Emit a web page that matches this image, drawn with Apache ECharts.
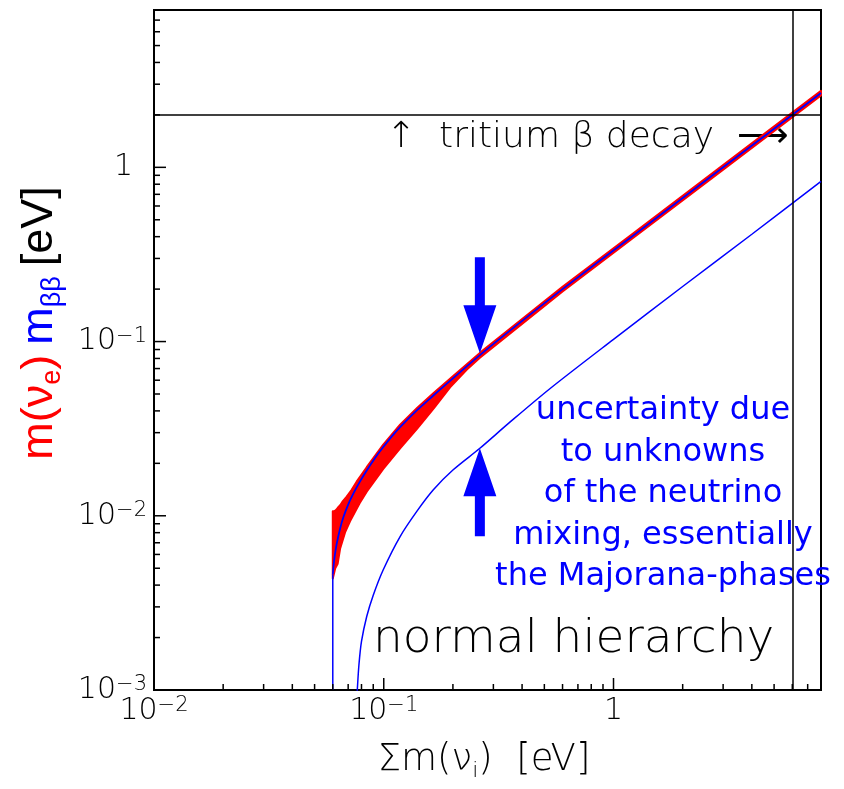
<!DOCTYPE html>
<html><head><meta charset="utf-8">
<script src="https://cdn.jsdelivr.net/npm/echarts@6/dist/echarts.min.js"></script>
<style>html,body{margin:0;padding:0;background:#fff}#c{width:844px;height:789px}</style>
</head><body><div id="c"></div>
<script>
// ---- axis ranges & ticks ----
const xRange = [0.01, 8];
const yRange = [0.001, 8];
const xMajorTicks = [0.01, 0.1, 1];
const xMinorTicks = [0.02,0.03,0.04,0.05,0.06,0.07,0.08,0.09,0.2,0.3,0.4,0.5,0.6,0.7,0.8,0.9,2,3,4,5,6,7];
const yMajorTicks = [0.001, 0.01, 0.1, 1];
const yMinorTicks = [0.002,0.003,0.004,0.005,0.006,0.007,0.008,0.009,0.02,0.03,0.04,0.05,0.06,0.07,0.08,0.09,0.2,0.3,0.4,0.5,0.6,0.7,0.8,0.9,2,3,4,5,6,7];

// ---- data (Σm [eV], m [eV]) ----
const redUpper = [[0.06,0.0106],[0.0608,0.0106],[0.0615,0.0107],[0.0624,0.0109],[0.0634,0.0112],[0.0646,0.0115],[0.066,0.0120],[0.069,0.0129],[0.0725,0.0141],[0.0762,0.0157],[0.0843,0.0190],[0.0995,0.0256],[0.1178,0.0333],[0.14,0.0417],[0.1644,0.0505],[0.2,0.0633],[0.262,0.0861],[0.6,0.206],[1.2,0.412],[3,1.03],[8,2.75]];
const redLower = [[0.06,0.00437],[0.0615,0.0050],[0.063,0.0053],[0.0646,0.0065],[0.068,0.0081],[0.0713,0.0093],[0.0785,0.0118],[0.0843,0.01374],[0.0995,0.0186],[0.1178,0.0244],[0.1392,0.0314],[0.165,0.0413],[0.1943,0.0546],[0.23,0.0691],[0.262,0.0807],[0.6,0.194],[1.2,0.388],[3,0.97],[8,2.59]];
const mbbMaxStem = [[0.0600,0.001],[0.0600,0.0046]];
const mbbMax = [[0.06,0.0046],[0.0605,0.0052],[0.0612,0.0059],[0.0624,0.0069],[0.0645,0.0084],[0.0667,0.0098],[0.070,0.0116],[0.0737,0.0134],[0.0785,0.0156],[0.0843,0.0182],[0.0915,0.0214],[0.0995,0.0248],[0.108,0.0284],[0.1178,0.0323],[0.14,0.0405],[0.1644,0.0490],[0.2,0.0615],[0.262,0.0836],[0.37,0.121],[0.6,0.200],[1.2,0.400],[3,1.0],[8,2.67]];
const mbbMin = [[0.0755,0.0007],[0.0767,0.001],[0.078,0.0014],[0.080,0.0019],[0.0843,0.00264],[0.09,0.0035],[0.0995,0.0049],[0.1178,0.0076],[0.14,0.0107],[0.1644,0.0141],[0.2,0.0183],[0.262,0.0244],[0.35,0.034],[0.53,0.0538],[1,0.103],[2,0.207],[4,0.413],[8,0.83]];
const tritiumLimit = 2;      // m(nu_e) limit [eV]
const sumLimit = 6;          // corresponding Σm [eV]
const arrowTips = [[0.262,0.0857,'down'],[0.262,0.0244,'up']];
const noteLines = ['uncertainty due','to unknowns','of the neutrino','mixing, essentially','the Majorana-phases'];

const chart = echarts.init(document.getElementById('c'), null, {renderer:'canvas'});

const LF = 'DejaVu Sans';
function expLabelX(v){
  const l = Math.log10(v), e = Math.round(l);
  if (Math.abs(l-e) > 1e-6) return '';
  if (e === 0) return '{b|1}';
  return '{b|10}{e|\u2212' + (-e) + '}';
}
function expLabelY(v){
  const l = Math.log10(v), e = Math.round(l);
  if (Math.abs(l-e) > 1e-6) return '';
  if (e === 0) return '{b|1}{sp|}';
  return '{b|10}{e|\u2212' + (-e) + '}';
}
const richX = {
  b:{fontFamily:LF, fontSize:30, fontWeight:200, color:'#000', lineHeight:31, padding:[11,0,0,0], verticalAlign:'bottom'},
  e:{fontFamily:LF, fontSize:21, fontWeight:200, color:'#000', lineHeight:21, verticalAlign:'top'}
};
const richY = {
  b:{fontFamily:LF, fontSize:30, fontWeight:200, color:'#000', lineHeight:31, padding:[11,0,11,0], verticalAlign:'middle'},
  e:{fontFamily:LF, fontSize:21, fontWeight:200, color:'#000', lineHeight:21, verticalAlign:'top'},
  sp:{width:14, lineHeight:21}
};

function tickSeries(vals, axis, len){
  return {
    type:'custom', silent:true, clip:false, z:5,
    data: vals.map(v => axis==='x' ? [v, yRange[0]] : [xRange[0], v]),
    renderItem(params, api){
      const p = api.coord([api.value(0), api.value(1)]);
      const s = axis==='x' ? {x1:p[0],y1:p[1],x2:p[0],y2:p[1]-len} : {x1:p[0],y1:p[1],x2:p[0]+len,y2:p[1]};
      return {type:'line', shape:s, style:{stroke:'#000', lineWidth:1.5}};
    }
  };
}

const bandPoly = redUpper.concat(redLower.slice().reverse());

const option = {
  animation:false,
  backgroundColor:'#fff',
  grid:{left:154, top:10, width:667, height:680, show:true, borderColor:'#000', borderWidth:2, backgroundColor:'transparent'},
  xAxis:{type:'log', logBase:10, min:xRange[0], max:xRange[1],
    axisLine:{show:false}, axisTick:{show:false}, splitLine:{show:false}, minorTick:{show:false},
    axisLabel:{formatter:expLabelX, rich:richX, margin:5, showMaxLabel:false}},
  yAxis:{type:'log', logBase:10, min:yRange[0], max:yRange[1],
    axisLine:{show:false}, axisTick:{show:false}, splitLine:{show:false}, minorTick:{show:false},
    axisLabel:{formatter:expLabelY, rich:richY, margin:7, showMaxLabel:false}},
  series:[
    {type:'custom', silent:true, z:2, data:[bandPoly[0]],
      renderItem(params, api){
        const pts = bandPoly.map(d => api.coord(d));
        return {type:'polygon', shape:{points:pts}, style:{fill:'#ff0000', stroke:'#ff0000', lineWidth:2, lineJoin:'round'}};
      }},
    {type:'line', data:mbbMaxStem, symbol:'none', z:3, lineStyle:{color:'#0000ff', width:1.5}},
    {type:'line', data:mbbMax, smooth:0.3, symbol:'none', z:3, lineStyle:{color:'#0000ff', width:1.8}},
    {type:'line', data:mbbMin, smooth:0.3, symbol:'none', z:3, lineStyle:{color:'#0000ff', width:1.5},
      markLine:{silent:true, symbol:'none', label:{show:false}, lineStyle:{color:'#000', width:1.5, type:'solid'},
        data:[{yAxis:tritiumLimit},{xAxis:sumLimit}]}},
    {type:'custom', silent:true, clip:false, z:6, data:arrowTips.map(a=>[a[0],a[1]]),
      renderItem(params, api){
        const p = api.coord([api.value(0), api.value(1)]);
        const down = arrowTips[params.dataIndex][2]==='down';
        const s = down ? -1 : 1;          // direction from tip towards the tail
        const hw=16.5, hh=48, sw=5, sl = down ? 48 : 40;
        const x=p[0], y=p[1];
        const pts = [[x,y],[x+hw,y+s*hh],[x+sw,y+s*hh],[x+sw,y+s*(hh+sl)],[x-sw,y+s*(hh+sl)],[x-sw,y+s*hh],[x-hw,y+s*hh]];
        return {type:'polygon', shape:{points:pts}, style:{fill:'#0000ff'}};
      }},
    tickSeries(xMajorTicks,'x',12), tickSeries(xMinorTicks,'x',6),
    tickSeries(yMajorTicks,'y',12), tickSeries(yMinorTicks,'y',6)
  ],
  graphic:[
    {type:'text', x:40, y:323, rotation:Math.PI/2,
      style:{text:'{r|m(\u03bd}{rs|e}{r|)}   {bl|m}{bs|\u03b2\u03b2}   {k|[eV]}', align:'center', verticalAlign:'middle',
        rich:{
          r:{fontFamily:'Liberation Sans', fontSize:45, fill:'#ff0000', lineHeight:52},
          rs:{fontFamily:'Liberation Sans', fontSize:27, fill:'#ff0000', verticalAlign:'bottom', lineHeight:40},
          bl:{fontFamily:'Liberation Sans', fontSize:45, fill:'#0000ff', lineHeight:52},
          bs:{fontFamily:'Liberation Sans', fontSize:27, fill:'#0000ff', verticalAlign:'bottom', lineHeight:40},
          k:{fontFamily:'Liberation Sans', fontSize:45, fill:'#000', lineHeight:52}
        }}},
    {type:'text', x:484, y:760,
      style:{text:'{t|\u03a3m(\u03bd}{s|i}{t|)  [eV]}', align:'center', verticalAlign:'middle',
        rich:{
          t:{fontFamily:LF, fontWeight:200, fontSize:37, fill:'#000', lineHeight:44},
          s:{fontFamily:LF, fontWeight:200, fontSize:22, fill:'#000', verticalAlign:'bottom', lineHeight:36}
        }}},
    {type:'text', x:386, y:138,
      style:{text:'\u2191  tritium \u03b2 decay  \u27f6', align:'left', verticalAlign:'middle',
        fontFamily:LF, fontWeight:200, fontSize:36, fill:'#000'}},
    {type:'text', x:373, y:640,
      style:{text:'normal hierarchy', align:'left', verticalAlign:'middle',
        fontFamily:LF, fontWeight:200, fontSize:47, fill:'#000'}},
    {type:'text', x:663, y:494,
      style:{text:noteLines.join('\n'), align:'center', verticalAlign:'middle', lineHeight:41.5,
        fontFamily:'DejaVu Sans', fontSize:32, fill:'#0000ff'}}
  ]
};
chart.setOption(option);
</script></body></html>
